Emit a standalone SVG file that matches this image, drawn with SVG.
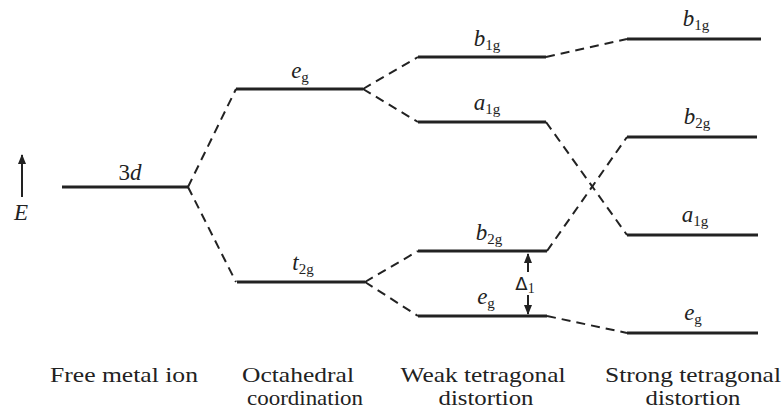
<svg xmlns="http://www.w3.org/2000/svg" width="783" height="410" viewBox="0 0 783 410">
<defs>
<style>
.lvl{stroke:#222;stroke-width:3;fill:none}
.dash{stroke:#222;stroke-width:2;fill:none;stroke-dasharray:9 6}
.lab{font-family:"Liberation Serif","Times New Roman",serif;font-style:italic;font-size:23px;fill:#222;text-anchor:middle}
.sub{font-size:15px;font-style:normal}
.cap{font-family:"Liberation Serif","Times New Roman",serif;font-size:22px;fill:#222;text-anchor:middle}
.ax{stroke:#222;stroke-width:2;fill:none}
</style>
<marker id="ah" viewBox="0 0 10 10" refX="9" refY="5" markerWidth="5" markerHeight="6" orient="auto">
<path d="M0,1 L10,5 L0,9 Z" fill="#222"/>
</marker>
</defs>
<rect width="783" height="410" fill="#fff"/>
<g id="axis">
<line class="ax" x1="22" y1="197" x2="22" y2="155" marker-end="url(#ah)"/>
<text class="lab" x="21" y="220">E</text>
</g>
<g id="connectors">
<path class="dash" d="M188,187 L236,89"/>
<path class="dash" d="M188,187 L236,282"/>
<path class="dash" d="M363,89 L418,57"/>
<path class="dash" d="M363,89 L418,122"/>
<path class="dash" d="M365,282 L418,251"/>
<path class="dash" d="M365,282 L418,316"/>
<path class="dash" d="M546,57 L627,39"/>
<path class="dash" d="M546,122 L627,235"/>
<path class="dash" d="M547,251 L627,137"/>
<path class="dash" d="M547,316 L627,333"/>
</g>
<g id="free-3d">
<line class="lvl" x1="62" y1="187" x2="188" y2="187"/>
<text class="lab" x="130" y="180"><tspan font-style="normal">3</tspan>d</text>
</g>
<g id="oct-eg">
<line class="lvl" x1="236" y1="89" x2="363" y2="89"/>
<text class="lab" x="300" y="78">e<tspan class="sub" dy="4">g</tspan></text>
</g>
<g id="oct-t2g">
<line class="lvl" x1="237" y1="282" x2="365" y2="282"/>
<text class="lab" x="303" y="270">t<tspan class="sub" dy="4">2g</tspan></text>
</g>
<g id="weak-b1g">
<line class="lvl" x1="418" y1="57" x2="546" y2="57"/>
<text class="lab" x="487" y="46">b<tspan class="sub" dy="4">1g</tspan></text>
</g>
<g id="weak-a1g">
<line class="lvl" x1="418" y1="122" x2="546" y2="122"/>
<text class="lab" x="487" y="110">a<tspan class="sub" dy="4">1g</tspan></text>
</g>
<g id="weak-b2g">
<line class="lvl" x1="418" y1="251" x2="547" y2="251"/>
<text class="lab" x="489" y="240">b<tspan class="sub" dy="4">2g</tspan></text>
</g>
<g id="weak-eg">
<line class="lvl" x1="418" y1="316" x2="547" y2="316"/>
<text class="lab" x="486" y="304">e<tspan class="sub" dy="4">g</tspan></text>
</g>
<g id="delta">
<line class="ax" x1="528" y1="272" x2="528" y2="254" marker-end="url(#ah)" stroke-width="1.5"/>
<line class="ax" x1="528" y1="295" x2="528" y2="314" marker-end="url(#ah)" stroke-width="1.5"/>
<text x="525" y="290" font-family="'DejaVu Sans',sans-serif" font-size="18" fill="#222" text-anchor="middle">Δ<tspan font-size="14" dy="3" font-family="'Liberation Serif',serif">1</tspan></text>
</g>
<g id="strong-b1g">
<line class="lvl" x1="627" y1="39" x2="761" y2="39"/>
<text class="lab" x="696" y="26">b<tspan class="sub" dy="4">1g</tspan></text>
</g>
<g id="strong-b2g">
<line class="lvl" x1="627" y1="137" x2="757" y2="137"/>
<text class="lab" x="697" y="124">b<tspan class="sub" dy="4">2g</tspan></text>
</g>
<g id="strong-a1g">
<line class="lvl" x1="627" y1="235" x2="758" y2="235"/>
<text class="lab" x="695" y="222">a<tspan class="sub" dy="4">1g</tspan></text>
</g>
<g id="strong-eg">
<line class="lvl" x1="627" y1="333" x2="758" y2="333"/>
<text class="lab" x="693" y="320">e<tspan class="sub" dy="4">g</tspan></text>
</g>
<g id="captions">
<text class="cap" x="124" y="382" textLength="148" lengthAdjust="spacingAndGlyphs">Free metal ion</text>
<text class="cap" x="298" y="382" textLength="112" lengthAdjust="spacingAndGlyphs">Octahedral</text>
<text class="cap" x="305" y="405" textLength="116" lengthAdjust="spacingAndGlyphs">coordination</text>
<text class="cap" x="483" y="382" textLength="165" lengthAdjust="spacingAndGlyphs">Weak tetragonal</text>
<text class="cap" x="486" y="405" textLength="95" lengthAdjust="spacingAndGlyphs">distortion</text>
<text class="cap" x="693" y="382" textLength="176" lengthAdjust="spacingAndGlyphs">Strong tetragonal</text>
<text class="cap" x="693" y="405" textLength="95" lengthAdjust="spacingAndGlyphs">distortion</text>
</g>
</svg>
